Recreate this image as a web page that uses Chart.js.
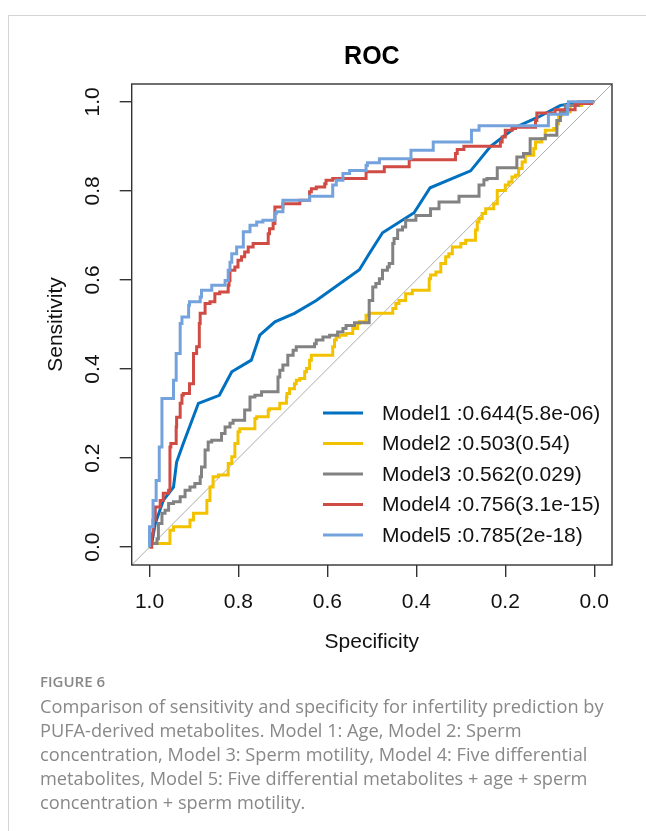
<!DOCTYPE html>
<html>
<head>
<meta charset="utf-8">
<title>ROC</title>
<script src="https://cdn.jsdelivr.net/npm/chart.js@4.4.1/dist/chart.umd.min.js"></script>
<style>
  html, body { margin: 0; padding: 0; background: #fff; }
  body { width: 646px; height: 831px; position: relative; overflow: hidden; }
  .card { position: absolute; left: 8px; top: 15px; right: -20px; bottom: -20px;
          border-left: 1px solid #d4d4d4; border-top: 1px solid #d4d4d4; }
  #chartBox { position: absolute; left: 0; top: 0; width: 646px; height: 680px; }
  .caption { position: absolute; left: 40px; top: 670px; font-family: 'Open Sans', sans-serif; color: #888; }
  .fig-label { font-size: 15px; font-weight: 600; line-height: 22px; }
  .fig-text { font-size: 18.2px; line-height: 24px; white-space: nowrap; margin-top: 2px; }
</style>
</head>
<body>
<div class="card"></div>
<div id="chartBox"><canvas id="rocChart"></canvas></div>
<div class="caption">
  <div class="fig-label">FIGURE 6</div>
  <div class="fig-text">Comparison of sensitivity and specificity for infertility prediction by<br>PUFA-derived metabolites. Model 1: Age, Model 2: Sperm<br>concentration, Model 3: Sperm motility, Model 4: Five differential<br>metabolites, Model 5: Five differential metabolites + age + sperm<br>concentration + sperm motility.</div>
</div>
<script>
// ROC points: specificity (x, reversed) and sensitivity (y)
const model1Spec = [1.0, 0.995, 0.987, 0.969, 0.946, 0.939, 0.924, 0.890, 0.843, 0.815, 0.771, 0.752, 0.718, 0.674, 0.625, 0.528, 0.506, 0.476, 0.405, 0.369, 0.278, 0.233, 0.177, 0.125, 0.076, 0.035, 0.0];
const model1Sens = [0.0, 0.008, 0.053, 0.105, 0.135, 0.191, 0.233, 0.323, 0.341, 0.394, 0.420, 0.476, 0.506, 0.525, 0.554, 0.623, 0.659, 0.706, 0.751, 0.807, 0.845, 0.900, 0.943, 0.966, 0.992, 0.998, 1.0];

const model2Spec = [1.0, 0.991, 0.954, 0.946, 0.931, 0.909, 0.901, 0.871, 0.864, 0.857,
  0.845, 0.823, 0.815, 0.808, 0.801, 0.797, 0.786, 0.763, 0.759, 0.733,
  0.730, 0.707, 0.692, 0.691, 0.685, 0.674, 0.670, 0.662, 0.651, 0.647,
  0.640, 0.636, 0.633, 0.588, 0.584, 0.580, 0.573, 0.558, 0.543, 0.532,
  0.528, 0.513, 0.506, 0.498, 0.453, 0.446, 0.439, 0.424, 0.409, 0.398,
  0.371, 0.368, 0.356, 0.345, 0.334, 0.327, 0.319, 0.300, 0.289, 0.267,
  0.263, 0.259, 0.252, 0.244, 0.237, 0.226, 0.218, 0.200, 0.192, 0.185,
  0.177, 0.170, 0.162, 0.155, 0.147, 0.136, 0.132, 0.118, 0.110, 0.091,
  0.084, 0.080, 0.073, 0.054, 0.028, 0.009, 0.0];
const model2Sens = [0.0, 0.008, 0.008, 0.038, 0.046, 0.046, 0.061, 0.076, 0.105, 0.135,
  0.158, 0.162, 0.188, 0.203, 0.233, 0.259, 0.266, 0.266, 0.289, 0.293,
  0.308, 0.311, 0.323, 0.337, 0.345, 0.356, 0.367, 0.375, 0.379, 0.394,
  0.401, 0.420, 0.431, 0.431, 0.450, 0.465, 0.472, 0.476, 0.480, 0.491,
  0.502, 0.506, 0.521, 0.525, 0.525, 0.536, 0.547, 0.554, 0.569, 0.577,
  0.577, 0.603, 0.611, 0.618, 0.637, 0.652, 0.659, 0.674, 0.682, 0.689,
  0.712, 0.730, 0.738, 0.749, 0.760, 0.760, 0.771, 0.801, 0.813, 0.820,
  0.831, 0.835, 0.850, 0.865, 0.880, 0.880, 0.895, 0.910, 0.917, 0.936,
  0.940, 0.951, 0.970, 0.977, 0.992, 0.996, 1.0];

const model3Spec = [1.0, 0.983, 0.980, 0.972, 0.965, 0.957, 0.946, 0.931, 0.920, 0.909,
  0.898, 0.886, 0.883, 0.875, 0.868, 0.860, 0.853, 0.838, 0.830, 0.819,
  0.812, 0.801, 0.786, 0.774, 0.763, 0.748, 0.711, 0.707, 0.700, 0.689,
  0.677, 0.670, 0.655, 0.629, 0.625, 0.610, 0.595, 0.577, 0.565, 0.558,
  0.539, 0.528, 0.506, 0.498, 0.491, 0.483, 0.476, 0.465, 0.461, 0.453,
  0.450, 0.442, 0.431, 0.424, 0.401, 0.368, 0.349, 0.304, 0.259, 0.248,
  0.241, 0.218, 0.200, 0.174, 0.159, 0.144, 0.136, 0.110, 0.084, 0.076,
  0.065, 0.035, 0.0];
const model3Sens = [0.0, 0.008, 0.019, 0.053, 0.076, 0.083, 0.098, 0.102, 0.113, 0.128,
  0.135, 0.143, 0.158, 0.180, 0.218, 0.236, 0.240, 0.240, 0.255, 0.270,
  0.278, 0.285, 0.285, 0.308, 0.337, 0.341, 0.349, 0.382, 0.397, 0.409,
  0.431, 0.442, 0.450, 0.450, 0.457, 0.465, 0.472, 0.476, 0.483, 0.491,
  0.498, 0.504, 0.504, 0.554, 0.584, 0.592, 0.603, 0.622, 0.629, 0.637,
  0.682, 0.693, 0.712, 0.719, 0.734, 0.745, 0.760, 0.775, 0.788, 0.813,
  0.825, 0.828, 0.852, 0.852, 0.876, 0.884, 0.917, 0.917, 0.925, 0.958,
  0.977, 0.992, 1.0];

const model4Spec = [1.0, 0.995, 0.992, 0.987, 0.976, 0.969, 0.957, 0.954, 0.952, 0.940,
  0.939, 0.931, 0.927, 0.924, 0.910, 0.909, 0.901, 0.894, 0.888, 0.886,
  0.875, 0.864, 0.853, 0.842, 0.823, 0.821, 0.819, 0.808, 0.801, 0.793,
  0.786, 0.778, 0.767, 0.752, 0.733, 0.730, 0.722, 0.718, 0.715, 0.700,
  0.692, 0.662, 0.662, 0.640, 0.636, 0.625, 0.606, 0.603, 0.588, 0.569,
  0.513, 0.510, 0.472, 0.468, 0.416, 0.416, 0.312, 0.308, 0.293, 0.293,
  0.211, 0.207, 0.200, 0.185, 0.177, 0.132, 0.129, 0.088, 0.043, 0.039,
  0.006, 0.0];
const model4Sens = [0.0, 0.0, 0.030, 0.061, 0.090, 0.105, 0.121, 0.128, 0.225, 0.233,
  0.270, 0.292, 0.323, 0.341, 0.345, 0.367, 0.367, 0.435, 0.450, 0.502,
  0.525, 0.547, 0.551, 0.569, 0.573, 0.588, 0.599, 0.622, 0.629, 0.644,
  0.652, 0.663, 0.674, 0.682, 0.682, 0.704, 0.715, 0.727, 0.764, 0.764,
  0.771, 0.771, 0.779, 0.779, 0.798, 0.805, 0.809, 0.816, 0.824, 0.828,
  0.828, 0.843, 0.843, 0.854, 0.854, 0.870, 0.870, 0.884, 0.893, 0.900,
  0.900, 0.910, 0.921, 0.936, 0.940, 0.943, 0.958, 0.975, 0.982, 0.994,
  0.996, 1.0];

const model5Spec = [1.0, 0.992, 0.985, 0.978, 0.972, 0.969, 0.946, 0.940, 0.931, 0.927,
  0.912, 0.910, 0.886, 0.883, 0.860, 0.853, 0.830, 0.823, 0.819, 0.815,
  0.804, 0.789, 0.774, 0.759, 0.745, 0.718, 0.715, 0.700, 0.692, 0.640,
  0.636, 0.588, 0.580, 0.565, 0.550, 0.513, 0.510, 0.483, 0.480, 0.412,
  0.410, 0.362, 0.356, 0.276, 0.259, 0.218, 0.103, 0.093, 0.060, 0.058,
  0.035, 0.0];
const model5Sens = [0.0, 0.046, 0.105, 0.150, 0.225, 0.334, 0.334, 0.375, 0.435, 0.502,
  0.517, 0.543, 0.551, 0.562, 0.577, 0.588, 0.588, 0.599, 0.622, 0.640,
  0.659, 0.674, 0.708, 0.723, 0.730, 0.734, 0.749, 0.753, 0.779, 0.779,
  0.788, 0.788, 0.813, 0.824, 0.839, 0.846, 0.857, 0.863, 0.872, 0.872,
  0.891, 0.891, 0.910, 0.910, 0.936, 0.946, 0.946, 0.972, 0.972, 0.992,
  1.0, 1.0];

// chance diagonal, corner to corner of the padded plot region
const chanceSpec = [1.04, -0.04];
const chanceSens = [-0.04, 1.04];

const modelNames = ['Model1', 'Model2', 'Model3', 'Model4', 'Model5'];
const modelAuc = [':0.644(5.8e-06)', ':0.503(0.54)', ':0.562(0.029)', ':0.756(3.1e-15)', ':0.785(2e-18)'];
const modelColors = ['#0070C0', '#F2C200', '#828282', '#D04B43', '#74A2DD'];

const specSeries = [model1Spec, model2Spec, model3Spec, model4Spec, model5Spec];
const sensSeries = [model1Sens, model2Sens, model3Sens, model4Sens, model5Sens];

const FONT = '"Liberation Sans", Arial, sans-serif';
const INK = '#111';

function toPoints(xs, ys) {
  return xs.map((x, i) => ({ x: x, y: ys[i] }));
}

const datasets = [{
  label: 'chance',
  data: toPoints(chanceSpec, chanceSens),
  borderColor: '#ababab',
  borderWidth: 1,
  order: 10
}];
modelNames.forEach((name, i) => {
  datasets.push({
    label: name,
    data: toPoints(specSeries[i], sensSeries[i]),
    borderColor: modelColors[i],
    borderWidth: 3,
    stepped: i === 0 ? false : 'after',   // Model1 (age) has many ties -> sloped segments
    order: 5 - i                          // Model5 drawn last, on top
  });
});

// plot frame + legend inside the plot, bottom right (R style)
const rocFrame = {
  id: 'rocFrame',
  afterDraw(chart) {
    const { ctx, chartArea: a } = chart;
    ctx.save();
    ctx.strokeStyle = '#333';
    ctx.lineWidth = 1.4;
    ctx.strokeRect(a.left, a.top, a.right - a.left, a.bottom - a.top);

    ctx.font = '21px ' + FONT;
    ctx.textBaseline = 'middle';
    ctx.textAlign = 'left';
    modelNames.forEach((name, i) => {
      const y = a.bottom - 152 + i * 30.5;
      ctx.strokeStyle = modelColors[i];
      ctx.lineWidth = 3;
      ctx.beginPath();
      ctx.moveTo(a.right - 289, y);
      ctx.lineTo(a.right - 249, y);
      ctx.stroke();
      ctx.fillStyle = INK;
      ctx.fillText(name + ' ' + modelAuc[i], a.right - 230, y + 1);
    });
    ctx.restore();
  }
};

function fmtTick(v) {
  return Math.abs(v) < 1e-9 ? '0.0' : v.toFixed(1);
}

const tickGrid = { drawOnChartArea: false, drawTicks: true, tickLength: 12, color: '#333', lineWidth: 1.4 };

new Chart(document.getElementById('rocChart').getContext('2d'), {
  type: 'scatter',
  data: { datasets: datasets },
  plugins: [rocFrame],
  options: {
    responsive: true,
    maintainAspectRatio: false,
    animation: false,
    showLine: true,
    layout: { padding: { left: 0, right: 34, top: 0, bottom: 0 } },
    elements: { point: { radius: 0, hoverRadius: 0 }, line: { tension: 0, fill: false } },
    plugins: {
      legend: { display: false },
      tooltip: { enabled: false },
      title: {
        display: true,
        text: 'ROC',
        fullSize: false,
        color: '#000',
        font: { family: FONT, size: 25, weight: 'bold' },
        padding: { top: 42, bottom: 12 }
      }
    },
    scales: {
      x: {
        type: 'linear',
        reverse: true,
        min: -0.04,
        max: 1.04,
        afterFit: function(scale) { scale.height = 115; },
        border: { display: false },
        grid: tickGrid,
        ticks: {
          stepSize: 0.2, includeBounds: false, padding: 13, maxRotation: 0,
          color: INK, font: { family: FONT, size: 21 }, callback: fmtTick
        },
        title: {
          display: true, text: 'Specificity', color: INK,
          font: { family: FONT, size: 21 }, padding: { top: 0, bottom: 25 }
        }
      },
      y: {
        type: 'linear',
        min: -0.04,
        max: 1.04,
        afterFit: function(scale) { scale.width = 131.7; },
        border: { display: false },
        grid: tickGrid,
        ticks: {
          stepSize: 0.2, includeBounds: false, padding: 12,
          minRotation: 90, maxRotation: 90, crossAlign: 'center',
          color: INK, font: { family: FONT, size: 21 }, callback: fmtTick
        },
        title: {
          display: true, text: 'Sensitivity', color: INK,
          font: { family: FONT, size: 21 }, padding: { top: 44, bottom: 0 }
        }
      }
    }
  }
});
</script>
</body>
</html>
